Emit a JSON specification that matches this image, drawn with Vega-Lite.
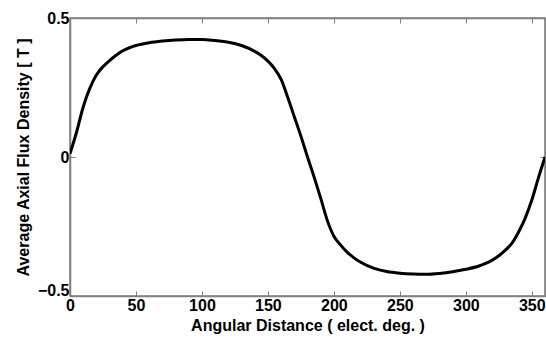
{
  "$schema": "https://vega.github.io/schema/vega-lite/v6.json",
  "width": 475,
  "height": 278,
  "autosize": {"type": "none"},
  "padding": {"left": 70, "top": 18, "right": 1, "bottom": 44},
  "background": "white",
  "config": {
    "view": {"stroke": "#808080", "strokeWidth": 1.5},
    "font": "Liberation Sans",
    "axis": {
      "domainColor": "#808080",
      "domainWidth": 1.5,
      "tickColor": "#808080",
      "tickSize": -5,
      "tickWidth": 1,
      "grid": false,
      "labelFont": "Liberation Sans",
      "labelFontWeight": "bold",
      "labelFontSize": 16,
      "labelColor": "black",
      "titleFont": "Liberation Sans",
      "titleFontWeight": "bold",
      "titleFontSize": 16,
      "titleColor": "black",
      "titleLimit": 500,
      "labelLimit": 200
    }
  },
  "data": {
    "values": [
      {"deg": 0, "b": 0.012}, {"deg": 5, "b": 0.09}, {"deg": 10, "b": 0.18},
      {"deg": 15, "b": 0.247}, {"deg": 20, "b": 0.295}, {"deg": 25, "b": 0.325},
      {"deg": 30, "b": 0.347}, {"deg": 35, "b": 0.366}, {"deg": 40, "b": 0.382},
      {"deg": 45, "b": 0.393}, {"deg": 50, "b": 0.401}, {"deg": 60, "b": 0.411},
      {"deg": 70, "b": 0.417}, {"deg": 80, "b": 0.421}, {"deg": 90, "b": 0.423},
      {"deg": 100, "b": 0.423}, {"deg": 110, "b": 0.419}, {"deg": 120, "b": 0.413},
      {"deg": 130, "b": 0.401}, {"deg": 140, "b": 0.38}, {"deg": 145, "b": 0.365},
      {"deg": 150, "b": 0.345}, {"deg": 155, "b": 0.318}, {"deg": 160, "b": 0.279},
      {"deg": 165, "b": 0.215}, {"deg": 170, "b": 0.145}, {"deg": 175, "b": 0.075},
      {"deg": 180, "b": 0.0}, {"deg": 185, "b": -0.072}, {"deg": 190, "b": -0.148},
      {"deg": 195, "b": -0.228}, {"deg": 200, "b": -0.285}, {"deg": 205, "b": -0.316},
      {"deg": 210, "b": -0.342}, {"deg": 215, "b": -0.362}, {"deg": 220, "b": -0.378},
      {"deg": 230, "b": -0.4}, {"deg": 240, "b": -0.412}, {"deg": 250, "b": -0.418},
      {"deg": 260, "b": -0.421}, {"deg": 270, "b": -0.422}, {"deg": 280, "b": -0.419},
      {"deg": 290, "b": -0.413}, {"deg": 300, "b": -0.404}, {"deg": 310, "b": -0.392},
      {"deg": 315, "b": -0.383}, {"deg": 320, "b": -0.371}, {"deg": 325, "b": -0.355},
      {"deg": 330, "b": -0.335}, {"deg": 335, "b": -0.31}, {"deg": 340, "b": -0.27},
      {"deg": 345, "b": -0.22}, {"deg": 350, "b": -0.155}, {"deg": 355, "b": -0.075},
      {"deg": 360, "b": 0.0}
    ]
  },
  "layer": [
    {
      "mark": {"type": "line", "color": "black", "strokeWidth": 3, "interpolate": "monotone", "clip": true},
      "encoding": {
        "x": {
          "field": "deg", "type": "quantitative",
          "scale": {"domain": [0, 360], "nice": false, "zero": false},
          "axis": {"orient": "bottom", "values": [0, 50, 100, 150, 200, 250, 300, 350],
                   "title": "Angular Distance ( elect. deg. )", "labelPadding": 6, "titlePadding": 4,
                   "labelOverlap": false, "labelFlush": false}
        },
        "y": {
          "field": "b", "type": "quantitative",
          "scale": {"domain": [-0.5, 0.5], "nice": false, "zero": false},
          "axis": {"orient": "left", "values": [-0.5, 0, 0.5], "format": "~g",
                   "title": "Average Axial Flux Density [ T ]", "labelPadding": 6, "titlePadding": 6,
                   "labelOverlap": false,
                   "labelOffset": {"condition": {"test": "datum.value < 0", "value": -6}, "value": 0}}
        }
      }
    },
    {
      "mark": {"type": "line", "opacity": 0},
      "encoding": {
        "x": {
          "field": "deg", "type": "quantitative",
          "scale": {"domain": [0, 360], "nice": false, "zero": false},
          "axis": {"orient": "top", "values": [0, 50, 100, 150, 200, 250, 300, 350], "labels": false, "title": null}
        },
        "y": {
          "field": "b", "type": "quantitative",
          "scale": {"domain": [-0.5, 0.5], "nice": false, "zero": false},
          "axis": {"orient": "right", "values": [-0.5, 0, 0.5], "labels": false, "title": null}
        }
      }
    }
  ],
  "resolve": {"axis": {"x": "independent", "y": "independent"}}
}
